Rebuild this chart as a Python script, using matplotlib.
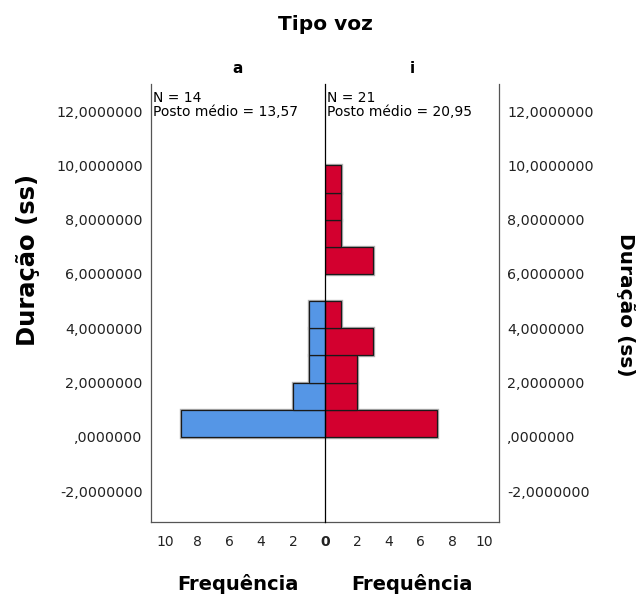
import numpy as np
import matplotlib.pyplot as plt
from matplotlib.ticker import FuncFormatter

# histogram bins (seconds) and counts per group
bin_edges = [0, 1, 2, 3, 4, 5, 6, 7, 8, 9, 10]
counts_a = [9, 2, 1, 1, 1, 0, 0, 0, 0, 0]
counts_i = [7, 2, 2, 3, 1, 0, 3, 1, 1, 1]
groups = ["a", "i"]
n_labels = ["N = 14\nPosto médio = 13,57", "N = 21\nPosto médio = 20,95"]
y_ticks = [-2, 0, 2, 4, 6, 8, 10, 12]
x_ticks = [0, 2, 4, 6, 8, 10]

blue = "#5596e6"
red = "#d3002f"

plt.rcParams['font.family'] = ['DejaVu Sans']


def fmt_value(v, pos=None):
    s = "%.7f" % v
    s = s.replace(".", ",")
    if s.startswith("0,"):
        s = s[1:]
    return s


fig = plt.figure(figsize=(6.39, 5.97), dpi=100)
x0, xm, x1 = 151 / 639, 325 / 639, 499 / 639
bot, top = 1 - 522 / 597, 1 - 84 / 597
ax_l = fig.add_axes([x0, bot, xm - x0, top - bot])
ax_r = fig.add_axes([xm, bot, x1 - xm, top - bot])

lefts = np.array(bin_edges[:-1])
widths = np.diff(bin_edges)

for ax, counts, color in [(ax_l, counts_a, blue), (ax_r, counts_i, red)]:
    c = np.array(counts)
    keep = c > 0
    # soft shadow under the bars
    ax.barh(lefts[keep], c[keep], height=widths[keep], align="edge",
            color="none", edgecolor="#b0b0b0", linewidth=2.4, zorder=1)
    ax.barh(lefts[keep], c[keep], height=widths[keep], align="edge",
            color=color, edgecolor="#1a1a1a", linewidth=0.9, zorder=2)
    ax.set_ylim(-3.14, 13.0)
    ax.set_yticks(y_ticks)
    ax.yaxis.set_major_formatter(FuncFormatter(fmt_value))
    ax.set_xticks(x_ticks)
    ax.tick_params(length=0, labelsize=10, colors="#222222")
    ax.tick_params(axis="x", pad=9)
    ax.tick_params(axis="y", pad=6, labelsize=10.3)
    ax.spines["top"].set_visible(False)
    for s in ax.spines.values():
        s.set_color("#555555")
        s.set_linewidth(0.9)

ax_l.set_xlim(10.9, 0)
ax_r.set_xlim(0, 10.9)
ax_r.yaxis.tick_right()
ax_l.spines["right"].set_visible(False)
ax_r.spines["left"].set_color("black")
ax_r.spines["left"].set_zorder(5)

# one shared, bold zero under the centre line
ax_r.xaxis.set_major_formatter(FuncFormatter(lambda v, p: "" if v == 0 else "%d" % v))
for lab in ax_l.get_xticklabels():
    if lab.get_text() == "0":
        lab.set_fontweight("bold")

for ax, name, txt in zip([ax_l, ax_r], groups, n_labels):
    ax.set_title(name, fontsize=11, fontweight="bold", pad=8)
    ax.text(0.012, 0.985, txt, transform=ax.transAxes, fontsize=10,
            va="top", ha="left", linespacing=1.05)
    ax.set_xlabel("Frequência", fontsize=14, fontweight="bold", labelpad=18)

fig.text(28 / 639, 1 - 260 / 597, "Duração (ss)", fontsize=17.5,
         fontweight="bold", rotation=90, ha="center", va="center")
fig.text(626 / 639, 1 - 305 / 597, "Duração (ss)", fontsize=14.5,
         fontweight="bold", rotation=270, ha="center", va="center")

fig.text(xm, 1 - 24 / 597, "Tipo voz", fontsize=14.5, fontweight="bold",
         ha="center", va="center")

fig.savefig("out.png", dpi=100)
